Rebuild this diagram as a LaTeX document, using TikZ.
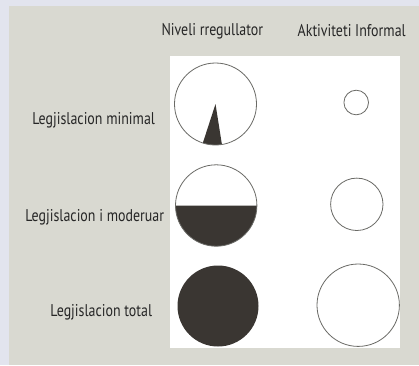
\documentclass[tikz,border=0pt]{standalone}
\usepackage{fontspec}
\usetikzlibrary{calc}
\setmainfont[FakeStretch=0.82]{PT Sans}
\definecolor{bggray}{HTML}{D9D9D1}
\definecolor{bgedge}{HTML}{E2E4EE}
\definecolor{darkfill}{HTML}{3A3632}
\definecolor{ringcol}{HTML}{6A6A66}
\definecolor{txtcol}{HTML}{262626}
\begin{document}
\begin{tikzpicture}[x=1pt,y=-1pt,
  lbl/.style={text=txtcol,font=\fontsize{17}{19}\selectfont,inner sep=0pt},
  ring/.style={draw=ringcol,line width=0.8pt},
  darkpart/.style={fill=darkfill}]
\useasboundingbox (0,0) rectangle (419,365);
\fill[bgedge] (0,0) rectangle (419,365);
\fill[bggray] (9,6) rectangle (419,365);
\fill[white] (170,56) rectangle (400,348);
% headers
\node[lbl] (h1) at (212.3,31.7) {Niveli rregullator};
\node[lbl] (h2) at (351.7,30.5) {Aktiviteti Informal};
% row labels
\node[lbl] (r1) at (93.7,120.7) {Legjislacion minimal};
\node[lbl] (r2) at (94.7,217.3) {Legjislacion i moderuar};
\node[lbl] (r3) at (101.3,312.7) {Legjislacion total};
% row 1
\coordinate (c1) at (215.5,104);
\fill[darkpart] (c1) -- ($(c1)+(81:41)$) arc[start angle=81,end angle=108,radius=41] -- cycle;
\draw[ring] (c1) circle[radius=41];
\draw[ring] (356.2,102.5) circle[radius=12.3];
% row 2
\coordinate (c2) at (216.2,205.5);
\fill[darkpart] ($(c2)+(40.7,0)$) arc[start angle=0,end angle=180,radius=40.7] -- cycle;
\draw[ring] (c2) circle[radius=40.7];
\draw[ring] (356.8,204.3) circle[radius=26.2];
% row 3
\fill[darkpart] (218,306) circle[radius=40.5];
\draw[ring] (358.2,305.2) circle[radius=41.2];
\end{tikzpicture}
\end{document}
